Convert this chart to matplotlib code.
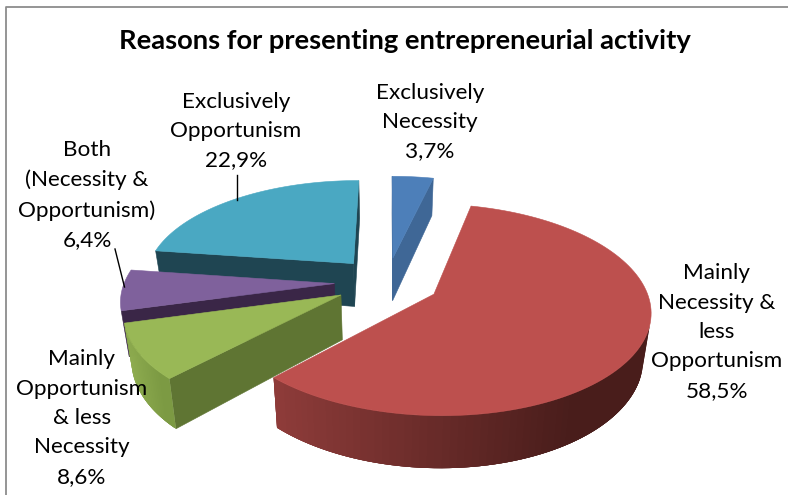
import numpy as np
import matplotlib
matplotlib.use("Agg")
import matplotlib.pyplot as plt
from matplotlib.colors import to_rgb
from matplotlib.patches import Polygon

names = ["Exclusively\nNecessity", "Mainly\nNecessity &\nless\nOpportunism",
         "Mainly\nOpportunism\n& less\nNecessity", "Both\n(Necessity &\nOpportunism)",
         "Exclusively\nOpportunism"]
shares = [3.7, 58.5, 8.6, 6.4, 22.9]
top_colors = ["#4d7fb9", "#bd504e", "#99b856", "#7f619c", "#4aa8c2"]
cut_colors = ["#3f6796", "#6e2b2a", "#5f7533", "#3a2647", "#1f4552"]
wall_left = ["#3f6796", "#8f3c3a", "#8fad50", "#3a2647", "#1f4552"]
wall_right = ["#3f6796", "#491d1b", "#7c9a43", "#3a2647", "#1f4552"]
label_pos = [(430, 122), (717, 332), (82, 418), (87, 195), (236, 131)]
title = "Reasons for presenting entrepreneurial activity"

CX, CY = 387, 282
A, B = 210, 100
PERSP = 0.145
EXPLODE = 0.25
DEPTH = 44
SHRINK = 0.97


def project(u, v):
    s = 1 / (1 + PERSP * v)
    return CX + A * u * s, CY - B * v * s, s


def lower(x, y, s):
    return CX + (x - CX) * SHRINK, y + DEPTH * s


def signed_area(pts):
    pts = np.array(pts)
    x, y = pts[:, 0], pts[:, 1]
    return 0.5 * np.sum(x * np.roll(y, -1) - np.roll(x, -1) * y)


def mix(c1, c2, t):
    return tuple((1 - t) * a + t * b for a, b in zip(to_rgb(c1), to_rgb(c2)))


def draw_slice(ax, start, stop, i):
    mid = (start + stop) / 2
    du = EXPLODE * np.sin(mid)
    dv = EXPLODE * np.cos(mid)
    th = np.linspace(start, stop, 120)
    us = np.sin(th) + du
    vs = np.cos(th) + dv
    x, y, s = project(us, vs)
    bx, by = lower(x, y, s)
    ax0, ay0, as0 = project(du, dv)
    abx, aby = lower(ax0, ay0, as0)

    # flat cut faces, only the ones turned towards the viewer
    start_face = [(ax0, ay0), (x[0], y[0]), (bx[0], by[0]), (abx, aby)]
    stop_face = [(ax0, ay0), (x[-1], y[-1]), (bx[-1], by[-1]), (abx, aby)]
    if signed_area(start_face) < 0:
        ax.add_patch(Polygon(start_face, fc=cut_colors[i], ec=cut_colors[i], lw=0.4))
    if signed_area(stop_face) > 0:
        ax.add_patch(Polygon(stop_face, fc=cut_colors[i], ec=cut_colors[i], lw=0.4))

    # outer wall as overlapping strips so the shade runs left to right without seams
    span = max(x.max() - x.min(), 1)
    for k in range(len(th) - 1):
        k2 = min(k + 4, len(th) - 1)
        quad = [(x[k], y[k]), (x[k + 1], y[k + 1]), (bx[k + 1], by[k + 1]), (bx[k], by[k])]
        if signed_area(quad) < 0:
            wide = [(x[j], y[j]) for j in range(k, k2 + 1)] + \
                   [(bx[j], by[j]) for j in range(k2, k - 1, -1)]
            t = min(1, 1.25 * (x[k] - x.min()) / span)
            ax.add_patch(Polygon(wide, fc=mix(wall_left[i], wall_right[i], t), lw=0))

    top = [(ax0, ay0)] + list(zip(x, y))
    ax.add_patch(Polygon(top, fc=top_colors[i], ec=top_colors[i], lw=0.4))


plt.rcParams["font.family"] = ["Lato", "DejaVu Sans"]
fig = plt.figure(figsize=(7.88, 4.95), dpi=100)
ax = fig.add_axes([0, 0, 1, 1])
ax.set_xlim(0, 788)
ax.set_ylim(495, 0)
ax.axis("off")

# chart frame, only the top and left edges fall inside the figure
ax.plot([6, 6, 788], [495, 7, 7], color="#8c8c8c", lw=1.3)

angles = np.radians(np.cumsum([0] + shares) * 3.6)
for i in [4, 0, 3, 2, 1]:
    draw_slice(ax, angles[i], angles[i + 1], i)

ax.plot([237, 237], [175, 200], color="black", lw=1)
ax.plot([115, 124.5], [249, 287], color="black", lw=1)

ax.text(405, 41, title, ha="center", va="center", fontsize=19.7, fontweight="bold",
        color="black")
for name, share, (px, py) in zip(names, shares, label_pos):
    label = name + "\n" + f"{share:.1f}".replace(".", ",") + "%"
    ax.text(px, py, label, ha="center", va="center", fontsize=16.2, linespacing=1.59,
            color="black")

fig.savefig("out.png", dpi=100, facecolor="white")
